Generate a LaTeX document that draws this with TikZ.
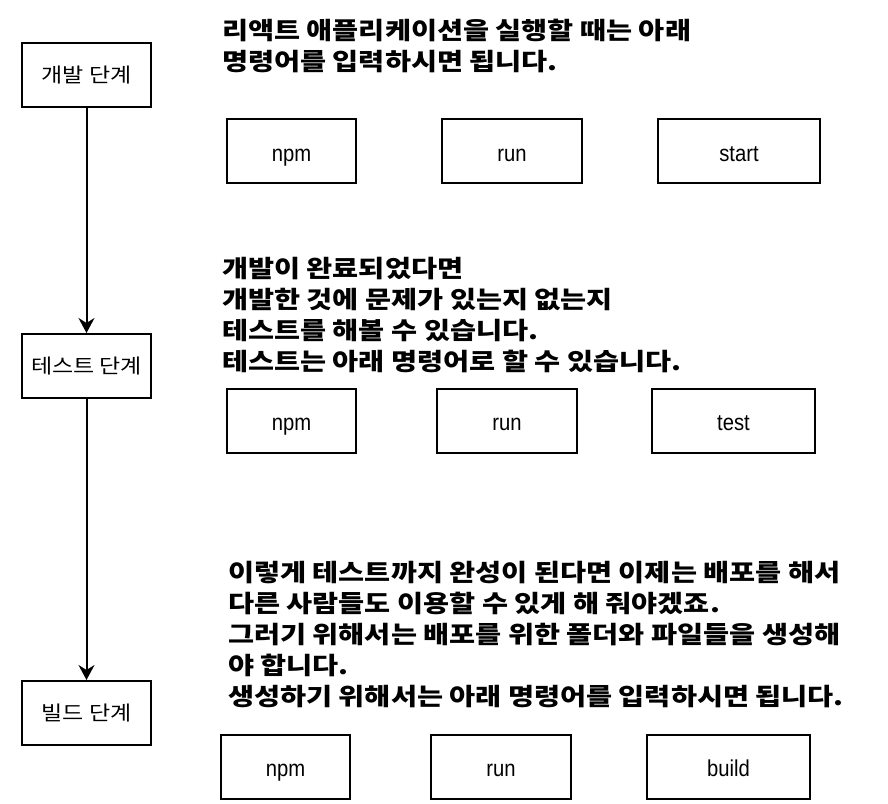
\documentclass[tikz,border=0pt]{standalone}
\usepackage{fontspec}
\setmainfont{Liberation Sans}[FakeStretch=0.88]
\newfontfamily\kr{Noto Sans CJK KR}[FakeStretch=1.15]
\newfontfamily\krwide{Noto Sans CJK KR}[FakeStretch=1.18]
\usetikzlibrary{arrows.meta,positioning}

\begin{document}
\begin{tikzpicture}[x=1pt, y=-1pt,
  stagebox/.style={draw, line width=2pt, minimum width=129pt, minimum height=64pt,
    font=\kr\fontsize{20}{22}\selectfont, inner sep=0pt},
  cmdbox/.style={draw, line width=2pt, minimum height=64pt, text height=24pt, text depth=4pt,
    font=\fontsize{23}{26}\selectfont, inner sep=0pt},
  note/.style={anchor=base west, align=left, inner sep=0pt,
    font=\krwide\bfseries\fontsize{24}{31}\selectfont},
  flow/.style={-{Stealth[length=15pt, width=16pt, inset=5pt]}, line width=2pt},
]
  \useasboundingbox (0,0) rectangle (888,803);

  % stages
  \node[stagebox] (dev) at (86.5,75) {개발 단계};
  \node[stagebox] (test) at (86.5,366) {테스트 단계};
  \node[stagebox] (build) at (86.5,713) {빌드 단계};

  \draw[flow] (dev) -- (test);
  \draw[flow] (test) -- (build);

  % development
  \node[note] (devnote) at (222,70) {리액트 애플리케이션을 실행할 때는 아래\\명령어를 입력하시면 됩니다.};
  \node[cmdbox, minimum width=129pt] (dnpm) at (291.5,151) {npm};
  \node[cmdbox, minimum width=140pt] (drun) at (512,151) {run};
  \node[cmdbox, minimum width=162pt] (dstart) at (739,151) {start};

  % test
  \node[note] (testnote) at (222,370) {개발이 완료되었다면\\개발한 것에 문제가 있는지 없는지\\테스트를 해볼 수 있습니다.\\테스트는 아래 명령어로 할 수 있습니다.};
  \node[cmdbox, minimum width=129pt] (tnpm) at (291.5,420.5) {npm};
  \node[cmdbox, minimum width=140pt] (trun) at (507,420.5) {run};
  \node[cmdbox, minimum width=163pt] (ttest) at (733.5,420.5) {test};

  % build
  \node[note] (buildnote) at (228,705) {이렇게 테스트까지 완성이 된다면 이제는 배포를 해서\\다른 사람들도 이용할 수 있게 해 줘야겠죠.\\그러기 위해서는 배포를 위한 폴더와 파일들을 생성해\\야 합니다.\\생성하기 위해서는 아래 명령어를 입력하시면 됩니다.};
  \node[cmdbox, minimum width=129pt] (bnpm) at (285.5,766.5) {npm};
  \node[cmdbox, minimum width=140pt] (brun) at (501,766.5) {run};
  \node[cmdbox, minimum width=163pt] (bbuild) at (728.5,766.5) {build};
\end{tikzpicture}
\end{document}
